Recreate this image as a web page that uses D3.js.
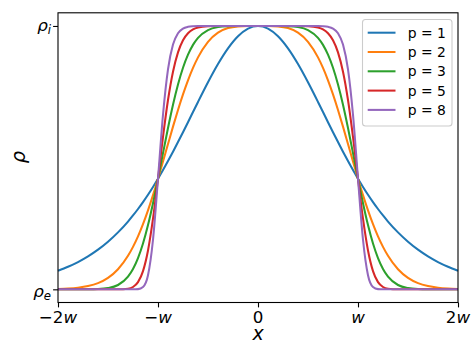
<!DOCTYPE html>
<html>
<head>
<meta charset="utf-8">
<script src="https://cdn.jsdelivr.net/npm/d3@7"></script>
<style>
  html, body { margin: 0; padding: 0; background: #fff; }
  svg { display: block; font-family: "DejaVu Sans", sans-serif; }
</style>
</head>
<body>
<svg id="chart" width="473" height="343"></svg>
<script>
// ---- data ----
const xs = [-2.0,-1.9,-1.8,-1.7,-1.6,-1.5,-1.4,-1.3,-1.25,-1.2,-1.15,-1.1,-1.05,-1.0,-0.95,-0.9,-0.85,-0.8,-0.75,-0.7,-0.65,-0.6,-0.5,-0.4,-0.3,-0.2,-0.1,
            0,
            0.1,0.2,0.3,0.4,0.5,0.6,0.65,0.7,0.75,0.8,0.85,0.9,0.95,1.0,1.05,1.1,1.15,1.2,1.25,1.3,1.4,1.5,1.6,1.7,1.8,1.9,2.0];

const p1 = [.0707,.0856,.1035,.1250,.1505,.1807,.2162,.2574,.2804,.3050,.3313,.3592,.3888,.4200,.4527,.4869,.5224,.5591,.5966,.6347,.6732,.7116,.7864,.8556,.9151,.9610,.9901,
            1,
            .9901,.9610,.9151,.8556,.7864,.7116,.6732,.6347,.5966,.5591,.5224,.4869,.4527,.4200,.3888,.3592,.3313,.3050,.2804,.2574,.2162,.1807,.1505,.1250,.1035,.0856,.0707];
const p2 = [.0013,.0029,.0061,.0123,.0236,.0435,.0763,.1274,.1613,.2013,.2476,.2999,.3578,.4200,.4852,.5516,.6177,.6809,.7401,.7937,.8408,.8808,.9400,.9748,.9919,.9984,1.0000,
            1,
            1.0000,.9984,.9919,.9748,.9400,.8808,.8408,.7937,.7401,.6809,.6177,.5516,.4852,.4200,.3578,.2999,.2476,.2013,.1613,.1274,.0763,.0435,.0236,.0123,.0061,.0029,.0013];
const p3 = [0,0,0,.0002,.0011,.0047,.0164,.0482,.0773,.1186,.1740,.2440,.3272,.4200,.5171,.6125,.7008,.7777,.8412,.8910,.9282,.9548,.9845,.9959,.9993,1,1,
            1,
            1,1,.9993,.9959,.9845,.9548,.9282,.8910,.8412,.7777,.7008,.6125,.5171,.4200,.3272,.2440,.1740,.1186,.0773,.0482,.0164,.0047,.0011,.0002,0,0,0];
const p5 = [0,0,0,0,0,0,.0001,.0024,.0089,.0272,.0691,.1476,.2681,.4200,.5786,.7188,.8264,.8999,.9457,.9723,.9867,.9940,.9990,.9999,1,1,1,
            1,
            1,1,1,.9999,.9990,.9940,.9867,.9723,.9457,.8999,.8264,.7188,.5786,.4200,.2681,.1476,.0691,.0272,.0089,.0024,.0001,0,0,0,0,0,0];
const p8 = [0,0,0,0,0,0,0,0,0,.0007,.0088,.0535,.1882,.4200,.6629,.8354,.9293,.9724,.9900,.9967,.9990,.9997,1,1,1,1,1,
            1,
            1,1,1,1,1,.9997,.9990,.9967,.9900,.9724,.9293,.8354,.6629,.4200,.1882,.0535,.0088,.0007,0,0,0,0,0,0,0,0,0];

const seriesNames = ["p = 1", "p = 2", "p = 3", "p = 5", "p = 8"];
const seriesValues = [p1, p2, p3, p5, p8];
const colors = ["#1f77b4", "#ff7f0e", "#2ca02c", "#d62728", "#9467bd"];

const xTickValues = [-2, -1, 0, 1, 2];
const xTickLabels = [["−2", "w"], ["−", "w"], ["0", ""], ["", "w"], ["2", "w"]];
const yTickValues = [0, 1];
const yTickLabels = [["ρ", "e"], ["ρ", "i"]];

// ---- layout ----
const L = 58, R = 458, T = 12.8, B = 302.5;
const svg = d3.select("#chart");

const x = d3.scaleLinear().domain([-2, 2]).range([L, R]);
const y = d3.scaleLinear().domain([-0.05, 1.05]).range([B, T]);

// curves
const line = d3.line()
  .x(d => x(d[0]))
  .y(d => y(d[1]))
  .curve(d3.curveMonotoneX);

const plot = svg.append("g");
seriesValues.forEach((vals, i) => {
  const pts = xs.map((xv, j) => [xv, vals[j]]);
  plot.append("path")
    .attr("d", line(pts))
    .attr("fill", "none")
    .attr("stroke", colors[i])
    .attr("stroke-width", 2.05)
    .attr("stroke-linejoin", "round")
    .attr("stroke-linecap", "butt");
});

// axes (ticks)
const xAxis = d3.axisBottom(x).tickValues(xTickValues).tickSize(4.9).tickFormat("");
const gx = svg.append("g").attr("transform", `translate(0,${B})`).call(xAxis);
gx.select(".domain").remove();
gx.selectAll(".tick line").attr("stroke", "#000").attr("stroke-width", 1.1);

const yAxis = d3.axisLeft(y).tickValues(yTickValues).tickSize(4.9).tickFormat("");
const gy = svg.append("g").attr("transform", `translate(${L},0)`).call(yAxis);
gy.select(".domain").remove();
gy.selectAll(".tick line").attr("stroke", "#000").attr("stroke-width", 1.1);

// x tick labels (mathtext-like)
xTickValues.forEach((v, i) => {
  const t = svg.append("text")
    .attr("x", x(v))
    .attr("y", 322.5)
    .attr("text-anchor", "middle")
    .attr("font-size", 16.7)
    .attr("fill", "#000");
  if (xTickLabels[i][0]) t.append("tspan").text(xTickLabels[i][0]);
  if (xTickLabels[i][1]) t.append("tspan").attr("font-style", "italic").text(xTickLabels[i][1]);
});

// y tick labels
yTickValues.forEach((v, i) => {
  const t = svg.append("text")
    .attr("x", 51)
    .attr("y", y(v) + (i === 0 ? 7.5 : 5))
    .attr("text-anchor", "end")
    .attr("font-size", 16.7)
    .attr("font-style", "italic")
    .attr("fill", "#000");
  t.append("tspan").text(yTickLabels[i][0]);
  t.append("tspan").attr("font-size", 11.7).attr("dy", 3.5).text(yTickLabels[i][1]);
});

// spines
svg.append("rect")
  .attr("x", L).attr("y", T)
  .attr("width", R - L).attr("height", B - T)
  .attr("fill", "none")
  .attr("stroke", "#000")
  .attr("stroke-width", 1.1);

// axis labels
svg.append("text")
  .attr("x", (L + R) / 2)
  .attr("y", 340)
  .attr("text-anchor", "middle")
  .attr("font-size", 19)
  .attr("font-style", "italic")
  .text("x");

svg.append("text")
  .attr("transform", `translate(25,157) rotate(-90)`)
  .attr("text-anchor", "middle")
  .attr("font-size", 19.4)
  .attr("font-style", "italic")
  .text("ρ");

// legend
const lg = svg.append("g");
lg.append("rect")
  .attr("x", 362.5).attr("y", 19.5)
  .attr("width", 89.5).attr("height", 106.5)
  .attr("rx", 3).attr("ry", 3)
  .attr("fill", "#fff").attr("fill-opacity", 0.8)
  .attr("stroke", "#cccccc").attr("stroke-width", 1.1);

seriesNames.forEach((name, i) => {
  const cy = 32.7 + i * 19.3;
  lg.append("line")
    .attr("x1", 367.7).attr("x2", 395.5)
    .attr("y1", cy).attr("y2", cy)
    .attr("stroke", colors[i]).attr("stroke-width", 2.05);
  lg.append("text")
    .attr("x", 407.7).attr("y", cy + 4.9)
    .attr("font-size", 13.9)
    .attr("fill", "#000")
    .text(name);
});
</script>
</body>
</html>
